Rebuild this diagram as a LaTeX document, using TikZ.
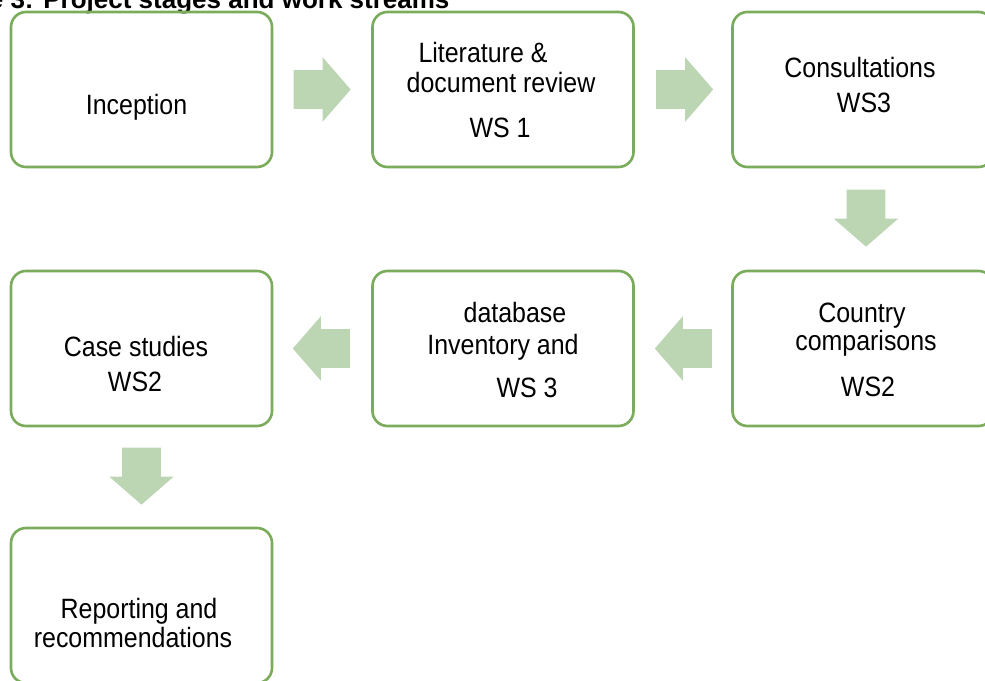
\documentclass[tikz,border=0pt]{standalone}
\usepackage{fontspec}
\setmainfont{Liberation Sans}
\usetikzlibrary{shapes.arrows,calc}

\definecolor{stagegreen}{RGB}{122,172,92}
\definecolor{flowgreen}{RGB}{188,214,180}

\tikzset{
  stage/.style={draw=stagegreen, line width=1.5pt, rounded corners=0.3cm,
    minimum width=5.22cm, minimum height=3.1cm, inner sep=0pt},
  txt/.style={anchor=base, inner sep=0pt, transform shape, yscale=1.12,
    font=\fontsize{14.2pt}{17pt}\selectfont},
  flow/.style={single arrow, fill=flowgreen, draw=none, anchor=tail,
    inner xsep=0pt, inner ysep=0.38cm,
    minimum height=1.14cm, minimum width=1.28cm,
    single arrow head extend=0.26cm, single arrow tip angle=98},
  flowdown/.style={flow, shape border rotate=270, inner xsep=0.38cm, inner ysep=0pt}
}

\begin{document}
\begin{tikzpicture}
    \useasboundingbox (0,0) rectangle (19.7,13.6);
    \clip (0,0) rectangle (19.7,13.6);

    % Title
    \node[anchor=base west, inner sep=0pt, font=\bfseries\fontsize{14.8pt}{17pt}\selectfont]
        (title) at (-1.53,13.42) {Figure 3: Project stages and work streams};

    % Stages
    \node[stage] (incep) at (2.83,11.81) {};
    \node[stage] (lit) at (10.06,11.81) {};
    \node[stage] (consult) at (17.26,11.81) {};
    \node[stage] (cases) at (2.83,6.63) {};
    \node[stage] (invent) at (10.06,6.63) {};
    \node[stage] (country) at (17.26,6.63) {};
    \node[stage] (report) at (2.83,1.49) {};

    % Texts
    \node[txt] (incep-t) at ($(incep)+(-0.1,-0.51)$) {Inception};
    \node[txt] (lit-t1) at ($(lit)+(-0.4,0.53)$) {Literature \&};
    \node[txt] (lit-t2) at ($(lit)+(-0.04,-0.07)$) {document review};
    \node[txt] (lit-t3) at ($(lit)+(-0.06,-0.97)$) {WS 1};
    \node[txt] (consult-t1) at ($(consult)+(-0.06,0.23)$) {Consultations};
    \node[txt] (consult-t2) at ($(consult)+(0.02,-0.47)$) {WS3};
    \node[txt] (country-t1) at ($(country)+(-0.02,0.51)$) {Country};
    \node[txt] (country-t2) at ($(country)+(0.06,-0.05)$) {comparisons};
    \node[txt] (country-t3) at ($(country)+(0.1,-0.97)$) {WS2};
    \node[txt] (invent-t1) at ($(invent)+(0.24,0.51)$) {database};
    \node[txt] (invent-t2) at ($(invent)+(0,-0.13)$) {Inventory and};
    \node[txt] (invent-t3) at ($(invent)+(0.48,-0.99)$) {WS 3};
    \node[txt] (cases-t1) at ($(cases)+(-0.11,-0.17)$) {Case studies};
    \node[txt] (cases-t2) at ($(cases)+(-0.13,-0.87)$) {WS2};
    \node[txt] (report-t1) at ($(report)+(-0.05,-0.25)$) {Reporting and};
    \node[txt] (report-t2) at ($(report)+(-0.17,-0.83)$) {recommendations};

    % Flow arrows
    \node[flow] (f1) at ($(incep.east)+(0.4,0)$) {};
    \node[flow] (f2) at ($(lit.east)+(0.42,0)$) {};
    \node[flowdown] (f3) at ($(consult.south)+(0.06,-0.42)$) {};
    \node[flow, shape border rotate=180] (f4) at ($(country.west)+(-0.38,0)$) {};
    \node[flow, shape border rotate=180] (f5) at ($(invent.west)+(-0.42,0)$) {};
    \node[flowdown] (f6) at ($(cases.south)+(0,-0.4)$) {};
\end{tikzpicture}
\end{document}
